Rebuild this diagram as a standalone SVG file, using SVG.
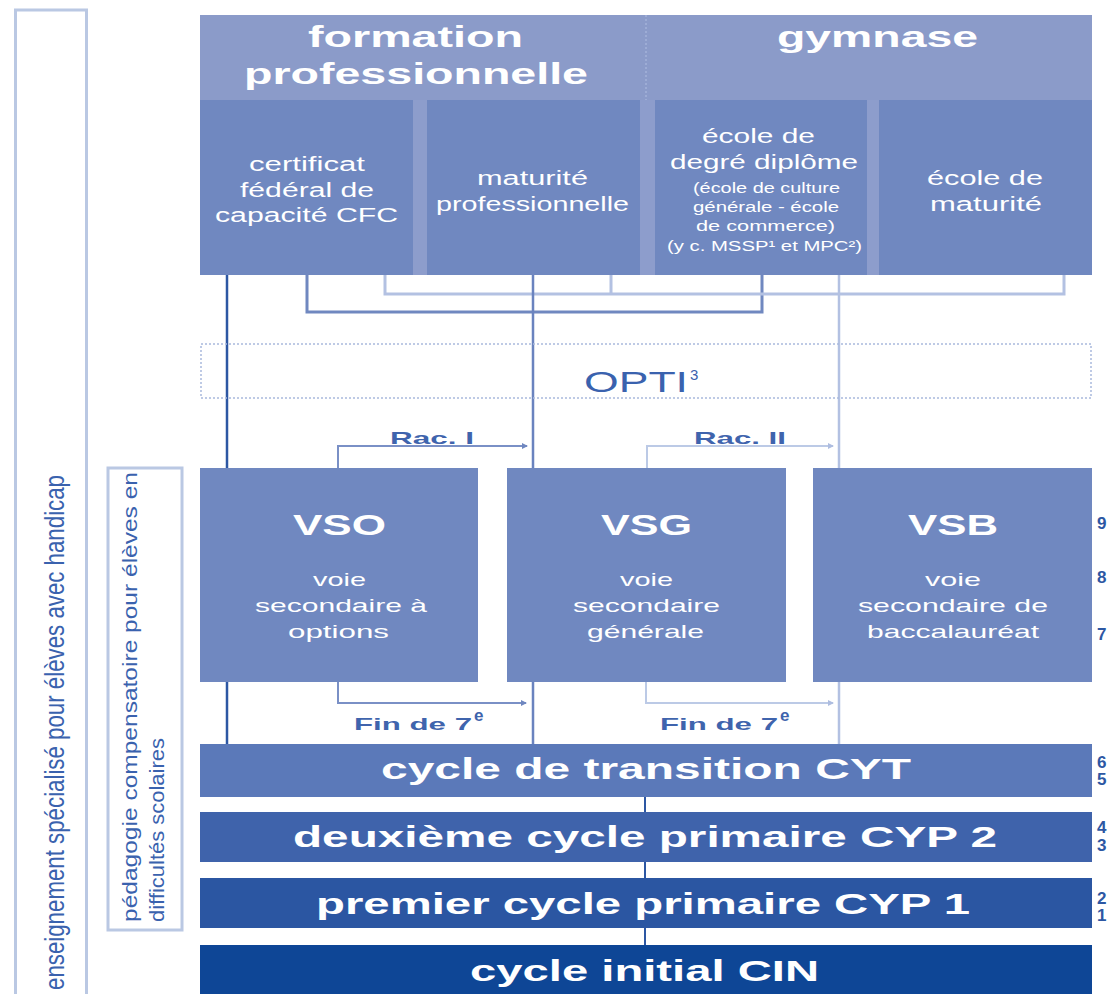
<svg xmlns="http://www.w3.org/2000/svg" width="1114" height="994" viewBox="0 0 1114 994">
<style>
text{font-family:"Liberation Sans",Arial,sans-serif}
.hd{font-size:30px;font-weight:bold;fill:#ffffff}
.r2{font-size:20px;fill:#ffffff}
.sm{font-size:14px;fill:#ffffff}
.vs{font-size:30px;font-weight:bold;fill:#ffffff}
.vt{font-size:19px;fill:#ffffff}
.bar{font-size:30px;font-weight:bold;fill:#ffffff}
.lab{font-size:17px;font-weight:bold;fill:#3f64ad}
.num{font-size:17px;font-weight:bold;fill:#2d57a3}
.side{font-size:27px;fill:#3a62ae}
.side2{font-size:20px;fill:#3a62ae}
</style>
<defs>
<marker id="ah" markerWidth="6" markerHeight="6" refX="5" refY="3" orient="auto" markerUnits="userSpaceOnUse">
<path d="M0,0 L6,3 L0,6 Z" fill="#6f87c0"/>
</marker>
<marker id="ahl" markerWidth="6" markerHeight="6" refX="5" refY="3" orient="auto" markerUnits="userSpaceOnUse">
<path d="M0,0 L6,3 L0,6 Z" fill="#aebde0"/>
</marker>
</defs>
<rect width="1114" height="994" fill="#ffffff"/>

<g id="side-handicap">
<rect x="15.5" y="10" width="71" height="1000" fill="none" stroke="#bac8e3" stroke-width="3"/>
<text class="side" transform="translate(64,990) rotate(-90)" textLength="515" lengthAdjust="spacingAndGlyphs">enseignement spécialisé pour élèves avec handicap</text>
</g>

<g id="side-compensatoire">
<rect x="108" y="468" width="74" height="462" fill="none" stroke="#bac8e3" stroke-width="3"/>
<text class="side2" transform="translate(137,922) rotate(-90)" textLength="450" lengthAdjust="spacingAndGlyphs">pédagogie compensatoire pour élèves en</text>
<text class="side2" transform="translate(164,922) rotate(-90)" textLength="184" lengthAdjust="spacingAndGlyphs">difficultés scolaires</text>
</g>

<g id="connectors" fill="none">
<line x1="227" y1="275" x2="227" y2="744" stroke="#2d57a3" stroke-width="2.5"/>
<path d="M307,275 V312 H762 V275" stroke="#7088c0" stroke-width="3"/>
<path d="M385,275 V294 H1064 V275 M611,275 V294" stroke="#b3c1e2" stroke-width="3"/>
<line x1="533" y1="275" x2="533" y2="744" stroke="#6a83bf" stroke-width="2.5"/>
<line x1="839" y1="275" x2="839" y2="744" stroke="#b3c1e2" stroke-width="2.5"/>
<path d="M338,468 V446 H527" stroke="#7a90c6" stroke-width="2" marker-end="url(#ah)"/>
<path d="M647,468 V446 H833" stroke="#bccae6" stroke-width="2" marker-end="url(#ahl)"/>
<path d="M338,682 V703 H526" stroke="#7a90c6" stroke-width="2" marker-end="url(#ah)"/>
<path d="M646,682 V703 H833" stroke="#bccae6" stroke-width="2" marker-end="url(#ahl)"/>
<path d="M645,797 V812 M645,862 V878 M645,928 V945" stroke="#2d57a3" stroke-width="2"/>
</g>

<g id="header">
<rect x="200" y="15" width="892" height="85" fill="#8b9bc9"/>
<line x1="646" y1="15" x2="646" y2="100" stroke="#a4b2d9" stroke-width="1.5" stroke-dasharray="2,2"/>
<text class="hd" x="308" y="47" textLength="215" lengthAdjust="spacingAndGlyphs">formation</text>
<text class="hd" x="244" y="84" textLength="344" lengthAdjust="spacingAndGlyphs">professionnelle</text>
<text class="hd" x="777" y="47" textLength="201" lengthAdjust="spacingAndGlyphs">gymnase</text>
</g>

<rect x="200" y="100" width="892" height="175" fill="#8d9dcc"/>

<g id="cfc">
<rect x="200" y="100" width="213" height="175" fill="#7088c0"/>
<text class="r2" x="249" y="171" textLength="116" lengthAdjust="spacingAndGlyphs">certificat</text>
<text class="r2" x="240" y="197" textLength="134" lengthAdjust="spacingAndGlyphs">fédéral de</text>
<text class="r2" x="215" y="222" textLength="183" lengthAdjust="spacingAndGlyphs">capacité CFC</text>
</g>

<g id="maturite-pro">
<rect x="427" y="100" width="213" height="175" fill="#7088c0"/>
<text class="r2" x="477" y="185" textLength="111" lengthAdjust="spacingAndGlyphs">maturité</text>
<text class="r2" x="436" y="211" textLength="193" lengthAdjust="spacingAndGlyphs">professionnelle</text>
</g>

<g id="ecole-diplome">
<rect x="655" y="100" width="212" height="175" fill="#7088c0"/>
<text class="r2" x="702" y="143" textLength="113" lengthAdjust="spacingAndGlyphs">école de</text>
<text class="r2" x="670" y="169" textLength="188" lengthAdjust="spacingAndGlyphs">degré diplôme</text>
<text class="sm" x="693" y="193" textLength="147" lengthAdjust="spacingAndGlyphs">(école de culture</text>
<text class="sm" x="693" y="212" textLength="146" lengthAdjust="spacingAndGlyphs">générale - école</text>
<text class="sm" x="696" y="231" textLength="139" lengthAdjust="spacingAndGlyphs">de commerce)</text>
<text class="sm" x="667" y="251" textLength="195" lengthAdjust="spacingAndGlyphs">(y c. MSSP¹ et MPC²)</text>
</g>

<g id="ecole-maturite">
<rect x="879" y="100" width="213" height="175" fill="#7088c0"/>
<text class="r2" x="927" y="185" textLength="116" lengthAdjust="spacingAndGlyphs">école de</text>
<text class="r2" x="930" y="211" textLength="112" lengthAdjust="spacingAndGlyphs">maturité</text>
</g>

<g id="opti">
<rect x="201" y="344" width="890" height="54" fill="none" stroke="#a9b9dd" stroke-width="1.5" stroke-dasharray="2,2"/>
<text x="584" y="392" font-size="29" fill="#3a62ae" textLength="104" lengthAdjust="spacingAndGlyphs">OPTI</text>
<text x="690" y="380" font-size="15" fill="#3a62ae">3</text>
</g>

<g id="labels">
<text class="lab" x="390" y="444" textLength="84" lengthAdjust="spacingAndGlyphs">Rac. I</text>
<text class="lab" x="694" y="444" textLength="92" lengthAdjust="spacingAndGlyphs">Rac. II</text>
<text class="lab" x="354" y="730" textLength="118" lengthAdjust="spacingAndGlyphs">Fin de 7</text>
<text class="lab" x="474" y="721" font-size="11">e</text>
<text class="lab" x="660" y="730" textLength="118" lengthAdjust="spacingAndGlyphs">Fin de 7</text>
<text class="lab" x="780" y="721" font-size="11">e</text>
</g>

<g id="vso">
<rect x="200" y="468" width="278" height="214" fill="#7088c0"/>
<text class="vs" x="293" y="535" textLength="93" lengthAdjust="spacingAndGlyphs">VSO</text>
<text class="vt" x="313" y="586" textLength="53" lengthAdjust="spacingAndGlyphs">voie</text>
<text class="vt" x="255" y="612" textLength="172" lengthAdjust="spacingAndGlyphs">secondaire à</text>
<text class="vt" x="288" y="638" textLength="101" lengthAdjust="spacingAndGlyphs">options</text>
</g>

<g id="vsg">
<rect x="507" y="468" width="279" height="214" fill="#7088c0"/>
<text class="vs" x="601" y="535" textLength="91" lengthAdjust="spacingAndGlyphs">VSG</text>
<text class="vt" x="620" y="586" textLength="53" lengthAdjust="spacingAndGlyphs">voie</text>
<text class="vt" x="573" y="612" textLength="147" lengthAdjust="spacingAndGlyphs">secondaire</text>
<text class="vt" x="587" y="638" textLength="117" lengthAdjust="spacingAndGlyphs">générale</text>
</g>

<g id="vsb">
<rect x="813" y="468" width="279" height="214" fill="#7088c0"/>
<text class="vs" x="908" y="535" textLength="90" lengthAdjust="spacingAndGlyphs">VSB</text>
<text class="vt" x="925" y="586" textLength="56" lengthAdjust="spacingAndGlyphs">voie</text>
<text class="vt" x="858" y="612" textLength="190" lengthAdjust="spacingAndGlyphs">secondaire de</text>
<text class="vt" x="867" y="638" textLength="172" lengthAdjust="spacingAndGlyphs">baccalauréat</text>
</g>

<g id="cyt">
<rect x="200" y="744" width="892" height="53" fill="#5b79b9"/>
<text class="bar" x="381" y="779" textLength="530" lengthAdjust="spacingAndGlyphs">cycle de transition CYT</text>
</g>

<g id="cyp2">
<rect x="200" y="812" width="892" height="50" fill="#3f63ab"/>
<text class="bar" x="293" y="847" textLength="704" lengthAdjust="spacingAndGlyphs">deuxième cycle primaire CYP 2</text>
</g>

<g id="cyp1">
<rect x="200" y="878" width="892" height="50" fill="#2b56a2"/>
<text class="bar" x="316" y="914" textLength="654" lengthAdjust="spacingAndGlyphs">premier cycle primaire CYP 1</text>
</g>

<g id="cin">
<rect x="200" y="945" width="892" height="49" fill="#0e4696"/>
<text class="bar" x="470" y="981" textLength="349" lengthAdjust="spacingAndGlyphs">cycle initial CIN</text>
</g>

<g id="years">
<text class="num" x="1097" y="529">9</text>
<text class="num" x="1097" y="583">8</text>
<text class="num" x="1097" y="640">7</text>
<text class="num" x="1097" y="768">6</text>
<text class="num" x="1097" y="785">5</text>
<text class="num" x="1097" y="833">4</text>
<text class="num" x="1097" y="851">3</text>
<text class="num" x="1097" y="904">2</text>
<text class="num" x="1097" y="921">1</text>
</g>
</svg>
